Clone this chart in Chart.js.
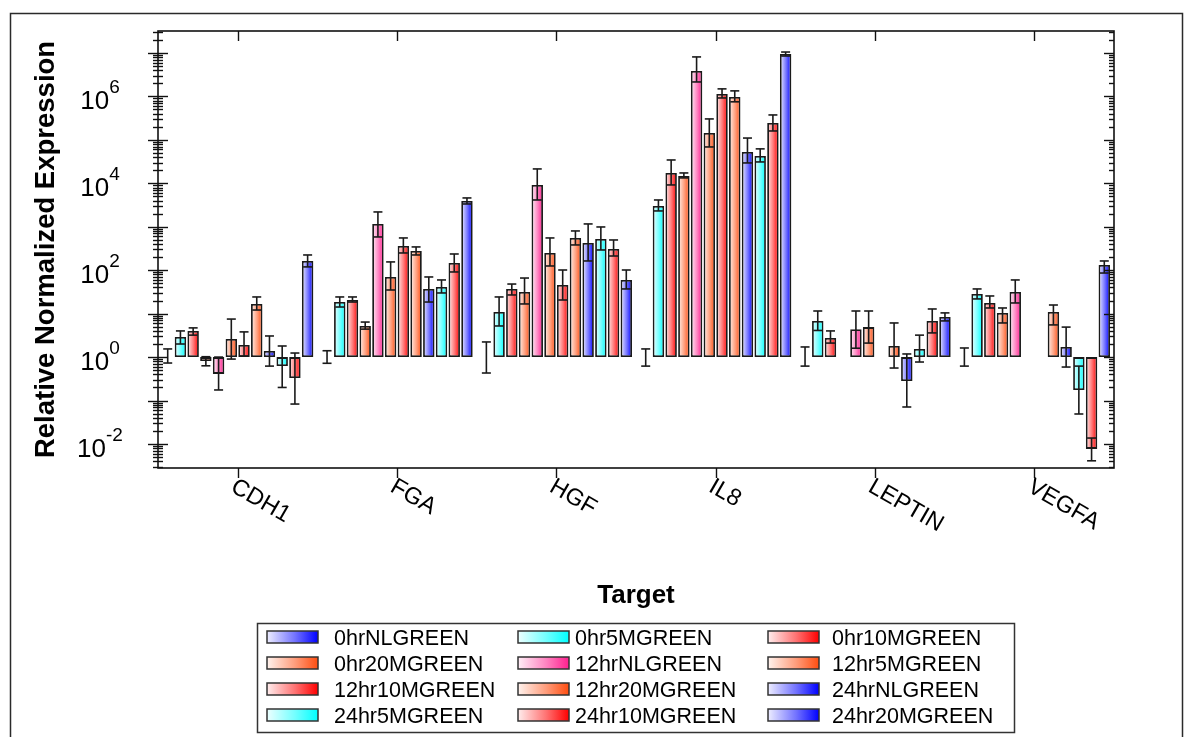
<!DOCTYPE html>
<html>
<head>
<meta charset="utf-8">
<script src="https://cdn.jsdelivr.net/npm/chart.js@4.4.1/dist/chart.umd.min.js"></script>
<style>
  html, body { margin: 0; padding: 0; background: #fff; }
  canvas { display: block; }
</style>
</head>
<body>
<canvas id="chart" width="1186" height="737"></canvas>
<script>
// Targets on the x axis
const targets = ['CDH1', 'FGA', 'HGF', 'IL8', 'LEPTIN', 'VEGFA'];

// Sample groups, in legend order
const seriesNames = [
  '0hrNLGREEN', '0hr5MGREEN', '0hr10MGREEN',
  '0hr20MGREEN', '12hrNLGREEN', '12hr5MGREEN',
  '12hr10MGREEN', '12hr20MGREEN', '24hrNLGREEN',
  '24hr5MGREEN', '24hr10MGREEN', '24hr20MGREEN'
];

// Relative normalized expression (one value per target) with error-bar low / high
const hr0NL      = [1, 1, 1, 1, 1, 1];
const hr0NL_lo   = [0.73, 0.72, 0.43, 0.62, 0.62, 0.62];
const hr0NL_hi   = [1.54, 1.40, 2.23, 1.54, 1.71, 1.62];

const hr0_5M     = [2.9, 18.5, 10.9, 3010, 6.8, 28.4];
const hr0_5M_lo  = [2.0, 14.2, 5.2, 2310, 4.1, 21.8];
const hr0_5M_hi  = [4.0, 24.2, 24.2, 4130, 11.5, 37];

const hr0_10M    = [4.0, 20.6, 37, 17300, 2.75, 17.6];
const hr0_10M_lo = [3.2, 18.5, 26.9, 9160, 2.1, 13.5];
const hr0_10M_hi = [4.7, 24.2, 48, 34400, 4.0, 25.5];

const hr0_20M    = [0.81, 5.2, 31.5, 14800, null, 10.4];
const hr0_20M_lo = [0.63, 4.4, 16.7, 13300, null, 6.1];
const hr0_20M_hi = [1.02, 6.4, 66, 17300, null, 13.5];

const hr12NL     = [0.41, 1160, 9160, 3.86e6, 4.4, 31.5];
const hr12NL_lo  = [0.175, 582, 4130, 2.15e6, 1.6, 17.6];
const hr12NL_hi  = [1.0, 2190, 21400, 8.1e6, 11.5, 59.6];

const hr12_5M    = [2.6, 69.8, 249, 1.44e5, 4.9, null];
const hr12_5M_lo = [0.9, 35, 125, 6.86e4, 2.1, null];
const hr12_5M_hi = [7.5, 155, 552, 3.03e5, 11.5, null];

const hr12_10M    = [1.9, 361, 45.7, 1.14e6, null, null];
const hr12_10M_lo = [1.06, 249, 20.6, 9.2e5, null, null];
const hr12_10M_hi = [3.8, 552, 101, 1.49e6, null, null];

const hr12_20M    = [16.7, 277, 552, 9.7e5, 1.8, 10.9];
const hr12_20M_lo = [12.1, 224, 381, 7.5e5, 0.56, 5.5];
const hr12_20M_hi = [24.2, 343, 800, 1.34e6, 6.1, 15.8];

const hr24NL     = [1.38, 37, 423, 5.26e4, 0.28, 1.7];
const hr24NL_lo  = [0.62, 18.5, 163, 2.94e4, 0.071, 0.59];
const hr24NL_hi  = [3.06, 69.8, 1160, 1.1e5, 1.18, 4.9];

const hr24_5M    = [0.62, 41, 523, 4.26e4, 1.54, 0.175];
const hr24_5M_lo = [0.2, 29.9, 292, 3.1e4, 0.77, 0.049];
const hr24_5M_hi = [1.8, 59.6, 988, 6.2e4, 3.2, 0.62];

const hr24_10M    = [0.33, 147, 308, 2.45e5, 6.8, 0.0077];
const hr24_10M_lo = [0.083, 91, 212, 1.6e5, 3.6, 0.0041];
const hr24_10M_hi = [1.24, 236, 496, 3.74e5, 12.8, 0.0137];

const hr24_20M    = [163, 3920, 59.6, 9.5e6, 8.4, 132];
const hr24_20M_lo = [119, 3340, 37, 8.5e6, 6.8, 86];
const hr24_20M_hi = [224, 4600, 101, 1.05e7, 10.4, 163];

// Labelled decades on the y axis (exponents of ten)
const yTickExponents = [-2, 0, 2, 4, 6];

// Log axis range
const Y_MIN = 0.0028;
const Y_MAX = 3.2e7;

const seriesValues = [hr0NL, hr0_5M, hr0_10M, hr0_20M, hr12NL, hr12_5M,
                      hr12_10M, hr12_20M, hr24NL, hr24_5M, hr24_10M, hr24_20M];
const seriesLow = [hr0NL_lo, hr0_5M_lo, hr0_10M_lo, hr0_20M_lo, hr12NL_lo, hr12_5M_lo,
                   hr12_10M_lo, hr12_20M_lo, hr24NL_lo, hr24_5M_lo, hr24_10M_lo, hr24_20M_lo];
const seriesHigh = [hr0NL_hi, hr0_5M_hi, hr0_10M_hi, hr0_20M_hi, hr12NL_hi, hr12_5M_hi,
                    hr12_10M_hi, hr12_20M_hi, hr24NL_hi, hr24_5M_hi, hr24_10M_hi, hr24_20M_hi];

// Fill colours (right-hand end of each horizontal gradient)
const BLUE = '#0000ff', CYAN = '#00ffff', RED = '#ff0000', ORANGE = '#ff4d10', PINK = '#ff1f8f';
const palette = [BLUE, CYAN, RED, ORANGE, PINK, ORANGE, RED, ORANGE, BLUE, CYAN, RED, BLUE];

const FONT = '"Liberation Sans", Arial, Helvetica, sans-serif';

function tint(hex, t) {
  const n = parseInt(hex.slice(1), 16);
  const r = (n >> 16) & 255, g = (n >> 8) & 255, b = n & 255;
  const m = c => Math.round(c + (255 - c) * t);
  return `rgb(${m(r)},${m(g)},${m(b)})`;
}
function hGradient(ctx, x0, x1, hex) {
  const g = ctx.createLinearGradient(x0, 0, x1, 0);
  g.addColorStop(0, tint(hex, 0.93));
  g.addColorStop(0.55, tint(hex, 0.45));
  g.addColorStop(1, hex);
  return g;
}

// Bars float from 1 (the calibrator level) to each value
const datasets = seriesNames.map((name, i) => ({
  label: name,
  data: seriesValues[i].map(v => (v == null ? null : [1, v])),
  backgroundColor: () => palette[i],
  borderColor: '#1a1a1a',
  borderWidth: c => (c.raw && c.raw[0] === c.raw[1] ? 0 : 1.8),
  borderSkipped: false,
  categoryPercentage: 0.958,
  barPercentage: 0.9
}));

function seg(ctx, x0, y0, x1, y1) {
  ctx.beginPath(); ctx.moveTo(x0, y0); ctx.lineTo(x1, y1); ctx.stroke();
}

// Horizontal gradient for every bar, computed from its laid-out position
const gradientFill = {
  id: 'gradientFill',
  beforeDatasetsDraw(chart) {
    const ctx = chart.ctx;
    chart.data.datasets.forEach((ds, i) => {
      chart.getDatasetMeta(i).data.forEach(el => {
        if (!el || el.options == null || !isFinite(el.x)) return;
        el.options.backgroundColor = hGradient(ctx, el.x - el.width / 2, el.x + el.width / 2, palette[i]);
      });
    });
  }
};

// I-beam error bars
const errorBars = {
  id: 'errorBars',
  afterDatasetsDraw(chart) {
    const { ctx, scales: { y } } = chart;
    ctx.save();
    ctx.strokeStyle = '#1a1a1a';
    ctx.lineWidth = 1.6;
    chart.data.datasets.forEach((ds, i) => {
      const meta = chart.getDatasetMeta(i);
      meta.data.forEach((el, j) => {
        const lo = seriesLow[i][j], hi = seriesHigh[i][j];
        if (lo == null || hi == null || !el) return;
        const x = el.x, yl = y.getPixelForValue(lo), yh = y.getPixelForValue(hi);
        seg(ctx, x, yl, x, yh);
        seg(ctx, x - 4.5, yl, x + 4.5, yl);
        seg(ctx, x - 4.5, yh, x + 4.5, yh);
      });
    });
    ctx.restore();
  }
};

// Frame, log ticks, labels, titles and legend
const axesFrame = {
  id: 'axesFrame',
  afterDraw(chart) {
    const { ctx, chartArea: a, scales: { x, y } } = chart;
    ctx.save();

    // outer border of the figure
    ctx.strokeStyle = '#2a2a2a';
    ctx.lineWidth = 1.5;
    ctx.beginPath();
    ctx.moveTo(10.5, chart.height + 2);
    ctx.lineTo(10.5, 13.5);
    ctx.lineTo(1182.5, 13.5);
    ctx.lineTo(1182.5, chart.height + 2);
    ctx.stroke();

    // plot frame
    ctx.strokeStyle = '#111';
    ctx.lineWidth = 1.6;
    ctx.strokeRect(a.left, a.top, a.right - a.left, a.bottom - a.top);

    // log ticks: crossing on the left axis, inward on the right
    ctx.lineWidth = 1.4;
    for (let k = -3; k <= 7; k++) {
      for (let m = 1; m <= 9; m++) {
        const v = m * Math.pow(10, k);
        if (v < Y_MIN || v > Y_MAX) continue;
        const py = Math.round(y.getPixelForValue(v)) + 0.5;
        const L = m === 1 ? 10 : 5;
        seg(ctx, a.left - L, py, a.left + L, py);
        seg(ctx, a.right - L, py, a.right, py);
      }
    }

    // category ticks: inward at the top, outward at the bottom
    targets.forEach((t, i) => {
      const px = Math.round(x.getPixelForValue(i)) + 0.5;
      seg(ctx, px, a.top, px, a.top + 10);
      seg(ctx, px, a.bottom, px, a.bottom + 10);
    });

    // y tick labels as 10 with a raised exponent
    ctx.fillStyle = '#000';
    yTickExponents.forEach(e => {
      const py = y.getPixelForValue(Math.pow(10, e));
      const base = '10', exp = String(e);
      ctx.font = `26px ${FONT}`;
      const wb = ctx.measureText(base).width;
      ctx.font = `19px ${FONT}`;
      const we = ctx.measureText(exp).width;
      const x0 = 100 - (wb + we) / 2;
      ctx.textAlign = 'left';
      ctx.textBaseline = 'alphabetic';
      ctx.font = `26px ${FONT}`;
      ctx.fillText(base, x0, py + 13);
      ctx.font = `19px ${FONT}`;
      ctx.fillText(exp, x0 + wb, py - 3);
    });

    // rotated category labels
    ctx.font = `23.5px ${FONT}`;
    ctx.textAlign = 'left';
    ctx.textBaseline = 'top';
    targets.forEach((t, i) => {
      const px = x.getPixelForValue(i);
      ctx.save();
      ctx.translate(px + 1, a.bottom + 7);
      ctx.rotate(Math.PI / 6);
      ctx.fillText(t, 0, 0);
      ctx.restore();
    });

    // axis titles
    ctx.font = `bold 26px ${FONT}`;
    ctx.textAlign = 'center';
    ctx.textBaseline = 'alphabetic';
    ctx.fillText('Target', (a.left + a.right) / 2, 603);
    ctx.save();
    ctx.translate(54, (a.top + a.bottom) / 2);
    ctx.rotate(-Math.PI / 2);
    ctx.font = `bold 27.5px ${FONT}`;
    ctx.fillText('Relative Normalized Expression', 0, 0);
    ctx.restore();

    // legend box, 3 columns x 4 rows
    ctx.strokeStyle = '#333';
    ctx.lineWidth = 1.5;
    ctx.strokeRect(257.5, 623.5, 757, 109);
    const swatchX = [267, 518, 768];
    const textX = [334, 575, 832];
    const rowY = [637, 663, 689, 715];
    ctx.font = `21.5px ${FONT}`;
    ctx.textAlign = 'left';
    ctx.textBaseline = 'alphabetic';
    seriesNames.forEach((name, i) => {
      const col = i % 3, row = Math.floor(i / 3);
      const sx = swatchX[col], sy = rowY[row] - 6;
      ctx.fillStyle = hGradient(ctx, sx, sx + 51, palette[i]);
      ctx.fillRect(sx, sy, 51, 12);
      ctx.strokeStyle = '#333';
      ctx.lineWidth = 1.5;
      ctx.strokeRect(sx, sy, 51, 12);
      ctx.fillStyle = '#000';
      ctx.fillText(name, textX[col], rowY[row] + 8);
    });

    ctx.restore();
  }
};

new Chart(document.getElementById('chart'), {
  type: 'bar',
  data: { labels: targets, datasets },
  options: {
    responsive: false,
    animation: false,
    events: [],
    layout: { padding: { left: 158, top: 31, right: 72, bottom: 269 } },
    scales: {
      x: { type: 'category', display: false, offset: true },
      y: { type: 'logarithmic', display: false, min: Y_MIN, max: Y_MAX }
    },
    plugins: { legend: { display: false }, tooltip: { enabled: false } }
  },
  plugins: [gradientFill, errorBars, axesFrame]
});
</script>
</body>
</html>
